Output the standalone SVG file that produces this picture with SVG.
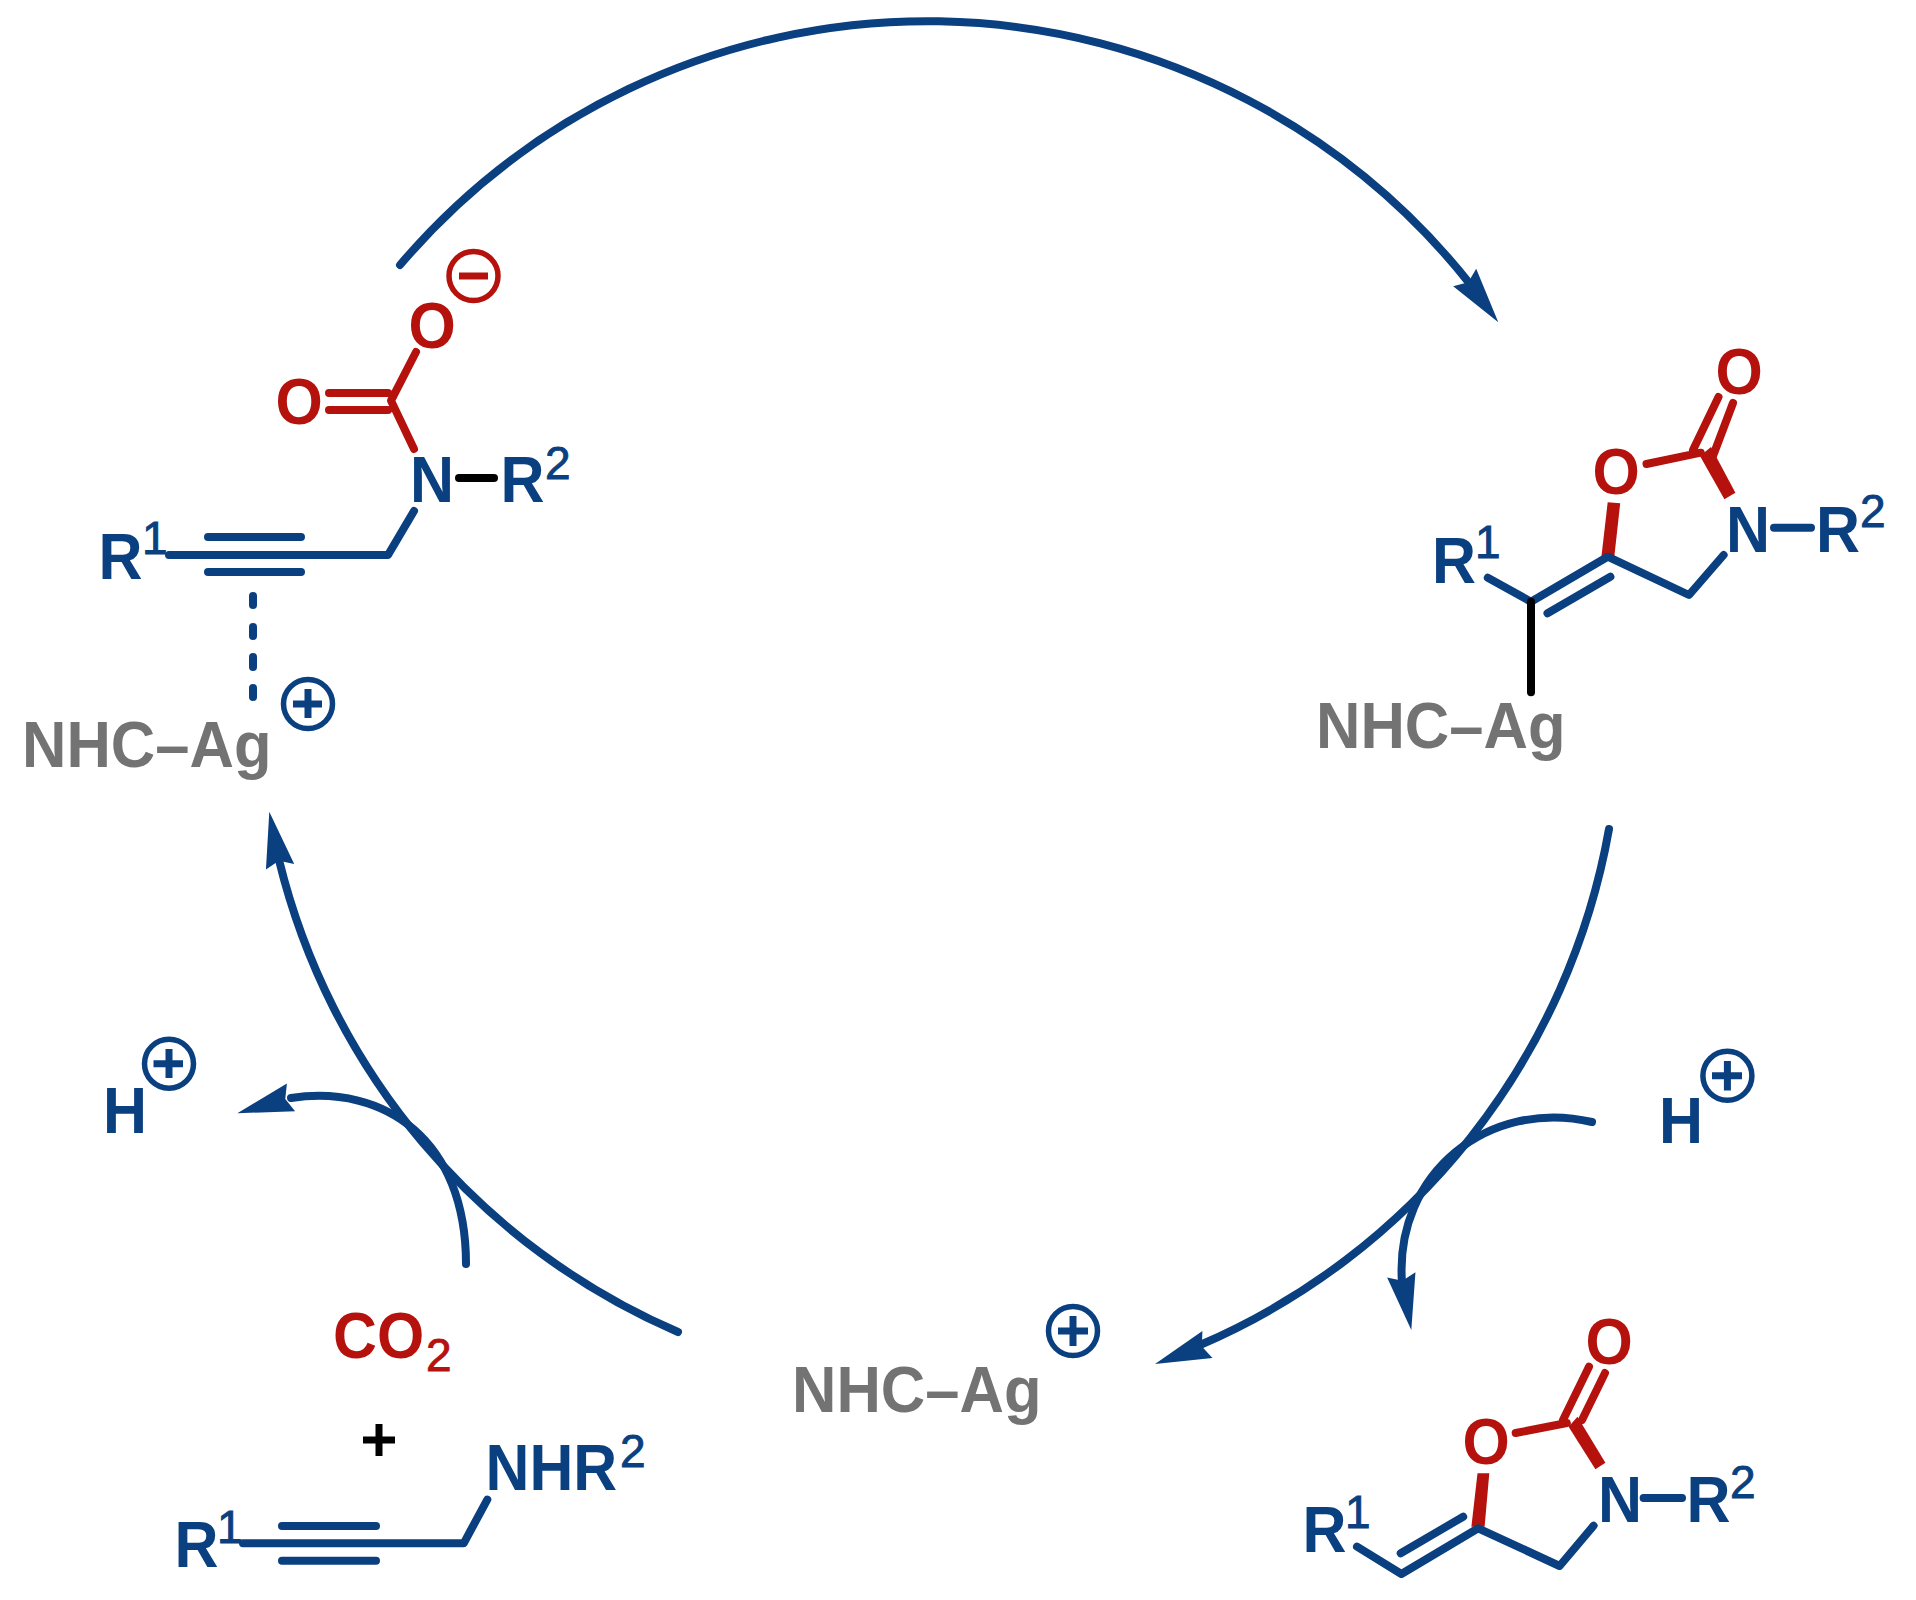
<svg xmlns="http://www.w3.org/2000/svg" width="1916" height="1600" viewBox="0 0 1916 1600">
<style>
text{font-family:"Liberation Sans",Arial,sans-serif}
.t{font-size:64px;font-weight:700}
.s{font-size:46px;font-weight:400;stroke-width:.9}
.blue{fill:#0a3f80}.red{fill:#b5120d}.gray{fill:#737373}.blk{fill:#000}
.s.blue{stroke:#0a3f80}.s.red{stroke:#b5120d}
.b,.r,.k,.a{fill:none;stroke-width:8;stroke-linecap:round;stroke-linejoin:round}
.b{stroke:#0a3f80}.r{stroke:#b5120d}.k{stroke:#000}
.a{stroke:#0a3f80;stroke-width:8}
.c{fill:none;stroke-width:5.500}
.sign{fill:none;stroke-width:7}
</style>
<defs>
<path id="head" d="M0,0 L-56,-14.400 L-50,0 L-56,14.400 Z" fill="#0a3f80"/>
</defs>
<g id="connectors">
<path class="a" d="M400,265 A692,692 0 0 1 1470,284"/>
<use href="#head" transform="translate(1498.300,322.300) rotate(53.100)"/>
<path class="a" d="M1609,829 A693,693 0 0 1 1200,1345"/>
<use href="#head" transform="translate(1155,1364) rotate(159.500)"/>
<path class="a" d="M678,1332 A693,693 0 0 1 279,860"/>
<use href="#head" transform="translate(269.300,811.700) rotate(258.900)"/>
<path class="a" d="M1592,1122 C1490,1098 1394,1172 1402,1283"/>
<use href="#head" transform="translate(1411.300,1330) rotate(79.700)"/>
<path class="a" d="M466,1264 C466,1140 385,1084 291,1098"/>
<use href="#head" transform="translate(237.300,1113.300) rotate(163.500)"/>
</g>
<g id="node-carbamate">
<text class="t blue" x="98.500" y="578.600" textLength="44" lengthAdjust="spacingAndGlyphs">R</text>
<text class="s blue" x="142" y="554">1</text>
<path class="b" d="M169,555H388L414,511M208,537H301M208,572H301"/>
<path class="b" d="M253,596v9M253,627v9M253,657v10M253,688v9"/>
<text class="t blue" x="410" y="502" textLength="44" lengthAdjust="spacingAndGlyphs">N</text>
<path class="k" d="M459,478H494"/>
<text class="t blue" x="500.500" y="502" textLength="44" lengthAdjust="spacingAndGlyphs">R</text>
<text class="s blue" x="545" y="479">2</text>
<path class="r" d="M416,352L391,400.600L414,449M329,393H388M329,410H388"/>
<text class="t red" x="275.500" y="423.500" textLength="47.300" lengthAdjust="spacingAndGlyphs">O</text>
<text class="t red" x="408.500" y="348" textLength="47.300" lengthAdjust="spacingAndGlyphs">O</text>
<circle class="c" cx="473.500" cy="276" r="24.500" stroke="#b5120d"/>
<path class="sign" d="M459,276H488" stroke="#b5120d"/>
<circle class="c" cx="308" cy="704" r="24.500" stroke="#0a3f80"/>
<path class="sign" d="M293,704H322M308,689V718" stroke="#0a3f80"/>
<text class="t gray" x="22" y="766.500" textLength="249.500" lengthAdjust="spacingAndGlyphs">NHC–Ag</text>
</g>
<g id="node-vinyl-silver">
<text class="t red" x="1715.500" y="394" textLength="47.300" lengthAdjust="spacingAndGlyphs">O</text>
<text class="t red" x="1592.500" y="494" textLength="47.300" lengthAdjust="spacingAndGlyphs">O</text>
<path class="r" d="M1693,450L1718.500,397M1712.600,457L1733,403M1646.500,464L1700.800,452.700"/>
<polygon class="red" points="1700,456 1711,447 1735.400,492.700 1724.400,499.300"/>
<polygon class="red" points="1607.700,502.300 1620.200,503.300 1614.300,556.700 1601.400,556.700"/>
<path class="b" d="M1487.800,577.700L1531,601.700L1607.700,556.700L1689,595L1723.600,555M1610.400,576.700L1547.500,613.300"/>
<path class="k" d="M1531,601.700V692.300"/>
<text class="t blue" x="1432" y="583" textLength="44" lengthAdjust="spacingAndGlyphs">R</text>
<text class="s blue" x="1475" y="558">1</text>
<text class="t blue" x="1726" y="551.700" textLength="44" lengthAdjust="spacingAndGlyphs">N</text>
<path class="b" d="M1774,527.700H1811"/>
<text class="t blue" x="1816" y="551.700" textLength="44" lengthAdjust="spacingAndGlyphs">R</text>
<text class="s blue" x="1860" y="527">2</text>
<text class="t gray" x="1316" y="748.300" textLength="249.500" lengthAdjust="spacingAndGlyphs">NHC–Ag</text>
</g>
<g id="node-oxazolidinone">
<text class="t red" x="1585.500" y="1364" textLength="47.300" lengthAdjust="spacingAndGlyphs">O</text>
<text class="t red" x="1462.500" y="1464" textLength="47.300" lengthAdjust="spacingAndGlyphs">O</text>
<path class="r" d="M1563,1420L1589,1366.700M1582,1420L1605,1373M1515.700,1433L1566.800,1423"/>
<polygon class="red" points="1568.600,1426.700 1577.500,1416.700 1605.400,1462.700 1595.400,1469.300"/>
<polygon class="red" points="1477.500,1473.300 1489.300,1473.300 1484.600,1526.700 1471.400,1526.700"/>
<path class="b" d="M1357,1546.700L1401.400,1574L1478.200,1528.300L1559.600,1566L1593.600,1525.700M1463.200,1516.700L1400.700,1553.300"/>
<text class="t blue" x="1302.500" y="1551.700" textLength="44" lengthAdjust="spacingAndGlyphs">R</text>
<text class="s blue" x="1345" y="1528">1</text>
<text class="t blue" x="1598" y="1521.700" textLength="44" lengthAdjust="spacingAndGlyphs">N</text>
<path class="b" d="M1643.600,1498H1682"/>
<text class="t blue" x="1686.500" y="1521.700" textLength="44" lengthAdjust="spacingAndGlyphs">R</text>
<text class="s blue" x="1730" y="1497.700">2</text>
</g>
<g id="node-proton-out">
<text class="t blue" x="103" y="1132.600" textLength="44" lengthAdjust="spacingAndGlyphs">H</text>
<circle class="c" cx="169" cy="1063.700" r="24.500" stroke="#0a3f80"/>
<path class="sign" d="M153.500,1063.700H183M169,1049V1078" stroke="#0a3f80"/>
</g>
<g id="node-proton-in">
<text class="t blue" x="1659" y="1143" textLength="44" lengthAdjust="spacingAndGlyphs">H</text>
<circle class="c" cx="1727.400" cy="1075.800" r="24.500" stroke="#0a3f80"/>
<path class="sign" d="M1712,1075.800H1742M1727.400,1061V1090.500" stroke="#0a3f80"/>
</g>
<g id="node-silver">
<text class="t gray" x="792" y="1412" textLength="249.500" lengthAdjust="spacingAndGlyphs">NHC–Ag</text>
<circle class="c" cx="1073" cy="1331" r="24.500" stroke="#0a3f80"/>
<path class="sign" d="M1058,1331H1088M1073,1316V1346" stroke="#0a3f80"/>
</g>
<g id="node-co2">
<text class="t red" transform="translate(333,1357.800) scale(.95,1)">CO</text>
<text class="s red" x="426" y="1371">2</text>
</g>
<g id="node-plus">
<path class="sign" d="M363,1440H395M379,1424V1456" stroke="#000" stroke-width="9"/>
</g>
<g id="node-amine">
<text class="t blue" transform="translate(485.500,1490) scale(.95,1)">NHR</text>
<text class="s blue" x="620" y="1467">2</text>
<text class="t blue" x="174.500" y="1567" textLength="44" lengthAdjust="spacingAndGlyphs">R</text>
<text class="s blue" x="217" y="1543">1</text>
<path class="b" d="M243,1543.300H463.700L487.300,1499.600M282,1526H376M282,1560.700H376"/>
</g>
</svg>
